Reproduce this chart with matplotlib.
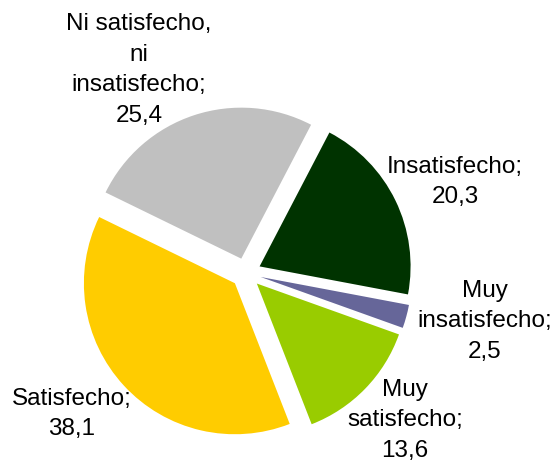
import matplotlib
matplotlib.use("Agg")
import matplotlib.pyplot as plt

categories = ["Muy\ninsatisfecho", "Insatisfecho", "Ni satisfecho,\nni\ninsatisfecho", "Satisfecho", "Muy\nsatisfecho"]
values = [2.5, 20.3, 25.4, 38.1, 13.6]
value_labels = ["2,5", "20,3", "25,4", "38,1", "13,6"]
colors = ["#666699", "#003300", "#C0C0C0", "#FFCC00", "#99CC00"]

# label centres in data units (pie radius = 1)
label_pos = [(1.583, -0.318), (1.384, 0.603), (-0.709, 1.344), (-1.152, -0.934), (1.053, -0.974)]

W, H = 557, 467
cx, cy, R = 246, 273, 151

fig = plt.figure(figsize=(W / 100, H / 100), dpi=100)
ax = fig.add_axes([0, 0, 1, 1])
wedges, _ = ax.pie(values, colors=colors, startangle=-19.7, counterclock=True,
                   explode=[0.1] * len(values), radius=1,
                   wedgeprops=dict(linewidth=0))
ax.set_xlim(-cx / R, (W - cx) / R)
ax.set_ylim(-(H - cy) / R, cy / R)
ax.set_aspect("auto")
ax.axis("off")

for cat, v, (x, y) in zip(categories, value_labels, label_pos):
    ax.text(x, y, f"{cat};\n{v}", ha="center", va="center", fontsize=17.5,
            linespacing=1.5, color="#000000", family="Liberation Sans")

fig.savefig("out.png", dpi=100)
